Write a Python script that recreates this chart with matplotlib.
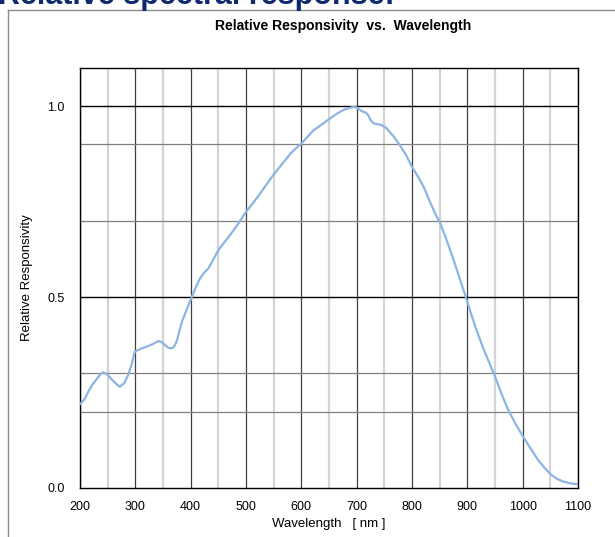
import matplotlib
matplotlib.use("Agg")
import matplotlib.pyplot as plt
from matplotlib.lines import Line2D

plt.rcParams['font.family'] = ['Liberation Sans', 'DejaVu Sans']

# Data
wavelength = [200, 208, 215, 222, 230, 237, 242, 248, 255, 263, 272, 280, 287,
              293, 299, 310, 320, 330, 342, 348, 354, 360, 366, 370, 375,
              384, 393, 402, 410, 417, 425, 432, 440, 450, 460, 471, 485, 498,
              512, 525, 537, 549, 566, 583, 602, 622, 637, 652, 664, 676, 686,
              694, 700, 706, 712, 717, 721, 726, 731, 737, 742, 748, 754, 766,
              778, 790, 800, 811, 821, 830, 839, 845, 851, 860, 869, 878, 887,
              895, 902, 915, 929, 940, 950, 962, 974, 988, 1001, 1015, 1028,
              1040, 1052, 1062, 1073, 1087, 1100]
responsivity = [0.22, 0.232, 0.252, 0.27, 0.285, 0.298, 0.303, 0.299, 0.288,
                0.276, 0.265, 0.275, 0.296, 0.322, 0.357, 0.365, 0.37, 0.376,
                0.385, 0.382, 0.374, 0.367, 0.366, 0.37, 0.385, 0.435, 0.468,
                0.50, 0.528, 0.549, 0.565, 0.575, 0.596, 0.623, 0.642, 0.662,
                0.69, 0.719, 0.745, 0.77, 0.795, 0.819, 0.85, 0.880, 0.905,
                0.937, 0.952, 0.968, 0.98, 0.990, 0.995, 0.998, 0.997, 0.99,
                0.985, 0.983, 0.976, 0.962, 0.955, 0.953, 0.952, 0.948, 0.942,
                0.922, 0.898, 0.87, 0.841, 0.815, 0.789, 0.758, 0.728, 0.71,
                0.693, 0.66, 0.623, 0.585, 0.545, 0.51, 0.478, 0.42, 0.365,
                0.327, 0.292, 0.246, 0.204, 0.166, 0.134, 0.102, 0.073, 0.052,
                0.034, 0.024, 0.017, 0.012, 0.010]

major_x = list(range(200, 1101, 100))
minor_x = list(range(250, 1100, 100))
grid_y = [0.2, 0.3, 0.7, 0.9]
black_y = [0.5, 1.0]
ytick_vals = [0.0, 0.5, 1.0]
ytick_labels = ["0.0", "0.5", "1.0"]

fig = plt.figure(figsize=(6.15, 5.37), dpi=100)
ax = fig.add_axes([80 / 615, 49 / 537, 498 / 615, 420 / 537])

for x in minor_x:
    ax.axvline(x, color='#d4d4d4', lw=1.6, zorder=1)
for x in major_x:
    ax.axvline(x, color='#404040', lw=0.9, zorder=1)
for y in grid_y:
    ax.axhline(y, color='#808080', lw=0.9, zorder=1)
for y in black_y:
    ax.axhline(y, color='black', lw=1.0, zorder=1)

ax.plot(wavelength, responsivity, color='#8db4e2', lw=1.6, zorder=3)

ax.set_xlim(200, 1100)
ax.set_ylim(0, 1.1)
ax.set_xticks(major_x)
ax.set_yticks(ytick_vals)
ax.set_yticklabels(ytick_labels)
ax.tick_params(length=0, labelsize=9, pad=9)
ax.tick_params(axis='y', pad=11)
for s in ax.spines.values():
    s.set_color('black')
    s.set_linewidth(1.0)

ax.set_xlabel("Wavelength   [ nm ]", fontsize=9.5, labelpad=4)
ax.set_ylabel("Relative Responsivity", fontsize=9.5, labelpad=10)

fig.text(343 / 615, 1 - 26 / 537, "Relative Responsivity  vs.  Wavelength",
         ha='center', va='center', fontsize=10, fontweight='bold')

# header cut off at top of the page
fig.text(-2 / 615, 1 - 4 / 537, "Relative spectral response:",
         ha='left', va='baseline', fontsize=22, fontweight='bold', color='#0e2a6e')

# outer frame
fig.add_artist(Line2D([8 / 615, 1], [1 - 10 / 537, 1 - 10 / 537],
                      transform=fig.transFigure, color='#8c8c8c', lw=1.0))
fig.add_artist(Line2D([8 / 615, 8 / 615], [0, 1 - 10 / 537],
                      transform=fig.transFigure, color='#8c8c8c', lw=1.0))

fig.savefig("out.png", dpi=100)
